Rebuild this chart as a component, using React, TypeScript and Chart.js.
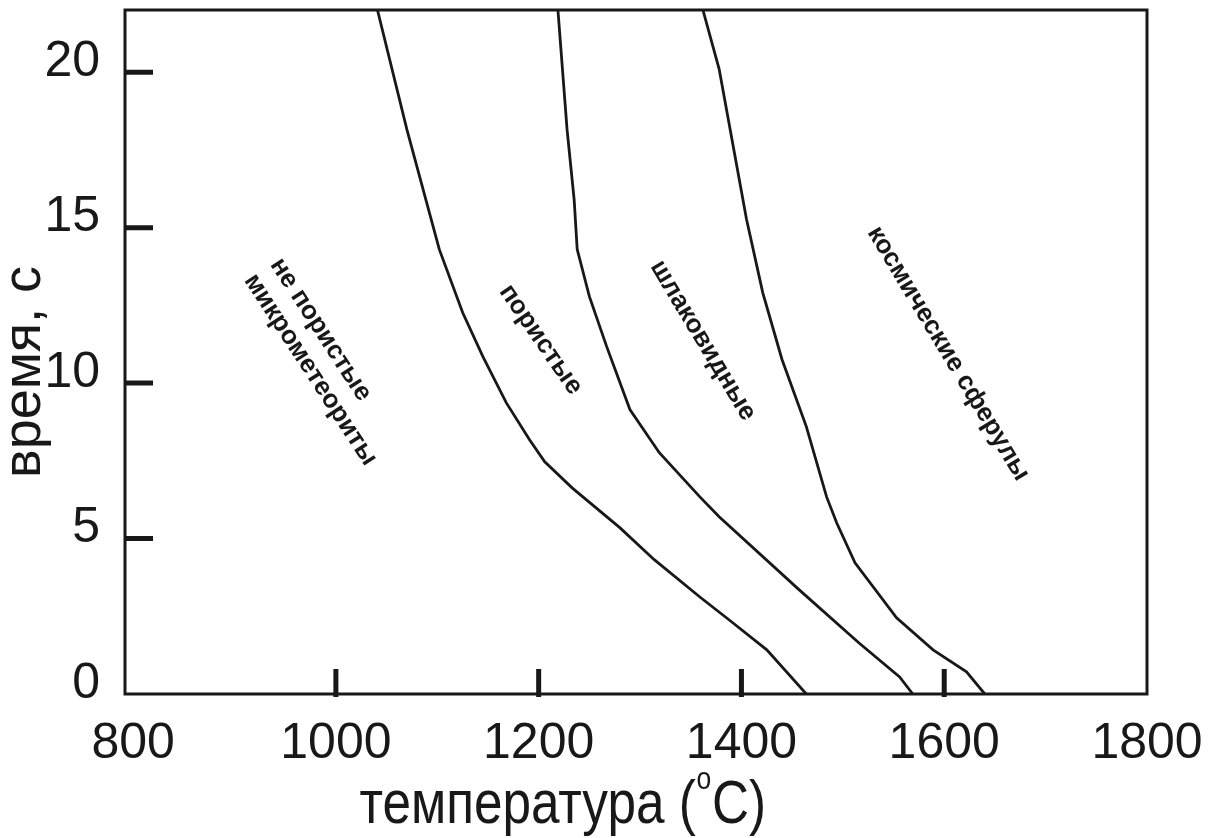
import React, { useEffect, useRef } from "react";
import { Chart, registerables } from "chart.js";

Chart.register(...registerables);

// ---- data ----
const xTickValues = [800, 1000, 1200, 1400, 1600, 1800];
const yTickValues = [0, 5, 10, 15, 20];
const xTickMarks = [1000, 1200, 1400, 1600];
const yTickMarks = [5, 10, 15, 20];

const xTitleMain = "температура (";
const xTitleSup = "o";
const xTitleEnd = "C)";
const yTitle = "время, с";

// boundary 1: non-porous micrometeorites | porous
const curve1T = [1041, 1070, 1102, 1125, 1145, 1168, 1191, 1206, 1233, 1280, 1314, 1359, 1388, 1425, 1464];
const curve1S = [22, 18.16, 14.3, 12.27, 10.85, 9.37, 8.18, 7.47, 6.63, 5.35, 4.32, 3.12, 2.38, 1.42, 0];

// boundary 2: porous | scoriaceous
const curve2T = [1219, 1228, 1235, 1238, 1250, 1267, 1290, 1319, 1359, 1378, 1457, 1516, 1556, 1569];
const curve2S = [22, 18.16, 15.9, 14.3, 12.79, 11.18, 9.15, 7.76, 6.34, 5.7, 3.35, 1.64, 0.55, 0];

// boundary 3: scoriaceous | cosmic spherules
const curve3T = [1362, 1378, 1405, 1421, 1440, 1464, 1484, 1494, 1512, 1553, 1589, 1622, 1640];
const curve3S = [22, 20.1, 15.27, 12.91, 10.76, 8.6, 6.34, 5.5, 4.22, 2.45, 1.42, 0.71, 0];

// region labels (anchored in data coordinates)
const regionLabels = [
  { text: "не пористые", t: 985, s: 11.72, angle: 57 },
  { text: "микрометеориты", t: 975, s: 10.43, angle: 57 },
  { text: "пористые", t: 1202, s: 11.4, angle: 55.5 },
  { text: "шлаковидные", t: 1362, s: 11.37, angle: 59 },
  { text: "космические сферулы", t: 1604, s: 10.95, angle: 59 },
];

const INK = "#181818";
const FONT = '"Liberation Sans", Arial, Helvetica, sans-serif';

const toPoints = (xs: number[], ys: number[]) => xs.map((x, i) => ({ x, y: ys[i] }));

const overlayPlugin = {
  id: "overlay",
  afterDraw(chart: any) {
    const { ctx, chartArea: a, scales } = chart;
    const xs = scales.x;
    const ys = scales.y;
    ctx.save();
    // frame
    ctx.strokeStyle = INK;
    ctx.lineWidth = 3;
    ctx.strokeRect(a.left, a.top, a.right - a.left, a.bottom - a.top);
    // inward tick marks
    ctx.lineWidth = 5;
    ctx.lineCap = "butt";
    ctx.beginPath();
    for (const v of xTickMarks) {
      const px = xs.getPixelForValue(v);
      ctx.moveTo(px, a.bottom + 3);
      ctx.lineTo(px, a.bottom - 25);
    }
    for (const v of yTickMarks) {
      const py = ys.getPixelForValue(v);
      ctx.moveTo(a.left, py);
      ctx.lineTo(a.left + 28, py);
    }
    ctx.stroke();

    ctx.fillStyle = INK;
    // region labels
    ctx.font = `bold 26px ${FONT}`;
    ctx.textAlign = "center";
    ctx.textBaseline = "middle";
    for (const lab of regionLabels) {
      const px = xs.getPixelForValue(lab.t);
      const py = ys.getPixelForValue(lab.s);
      ctx.save();
      ctx.translate(px, py);
      ctx.rotate((lab.angle * Math.PI) / 180);
      ctx.fillText(lab.text, 0, 0);
      ctx.restore();
    }

    // y title
    ctx.save();
    ctx.font = `54px ${FONT}`;
    ctx.textAlign = "center";
    ctx.textBaseline = "alphabetic";
    ctx.translate(40, (a.top + a.bottom) / 2 + 20);
    ctx.rotate(-Math.PI / 2);
    ctx.fillText(yTitle, 0, 0);
    ctx.restore();

    // x title with superscript degree
    ctx.save();
    ctx.textAlign = "left";
    ctx.textBaseline = "alphabetic";
    const big = `62px ${FONT}`;
    const small = `32px ${FONT}`;
    ctx.font = big;
    const w1 = ctx.measureText(xTitleMain).width;
    const w3 = ctx.measureText(xTitleEnd).width;
    ctx.font = small;
    const w2 = ctx.measureText(xTitleSup).width;
    const total = w1 + w2 + w3;
    const targetW = 405;
    const sx = targetW / total;
    ctx.translate(562 - targetW / 2, 823);
    ctx.scale(sx, 1);
    ctx.font = big;
    ctx.fillText(xTitleMain, 0, 0);
    ctx.font = small;
    ctx.fillText(xTitleSup, w1 + 1, -34);
    ctx.font = big;
    ctx.fillText(xTitleEnd, w1 + w2 + 2, 0);
    ctx.restore();

    ctx.restore();
  },
};

export default function App() {
  const canvasRef = useRef<HTMLCanvasElement | null>(null);

  useEffect(() => {
    const canvas = canvasRef.current;
    if (!canvas) return;
    const lineStyle = {
      showLine: true,
      borderColor: INK,
      backgroundColor: INK,
      borderWidth: 2.8,
      pointRadius: 0,
      tension: 0,
      fill: false,
    };
    const chart = new Chart(canvas, {
      type: "scatter",
      data: {
        datasets: [
          { label: "1", data: toPoints(curve1T, curve1S), ...lineStyle },
          { label: "2", data: toPoints(curve2T, curve2S), ...lineStyle },
          { label: "3", data: toPoints(curve3T, curve3S), ...lineStyle },
        ],
      },
      options: {
        animation: false,
        responsive: false,
        maintainAspectRatio: false,
        layout: { padding: { top: 10, right: 72, bottom: 0, left: 0 } },
        plugins: {
          legend: { display: false },
          tooltip: { enabled: false },
        },
        scales: {
          x: {
            type: "linear",
            min: 792,
            max: 1800,
            grid: { display: false, drawTicks: false },
            border: { display: false },
            ticks: {
              color: INK,
              font: { family: FONT, size: 50 },
              padding: 20,
              maxRotation: 0,
              autoSkip: false,
              callback: (v: any) => String(v),
            },
            afterBuildTicks: (scale: any) => {
              scale.ticks = xTickValues.map((v) => ({ value: v }));
            },
            afterFit: (scale: any) => {
              scale.height = 144;
              scale.paddingLeft = 0;
              scale.paddingRight = 0;
              scale.paddingTop = 0;
              scale.paddingBottom = 0;
            },
          },
          y: {
            type: "linear",
            min: 0,
            max: 22,
            grid: { display: false, drawTicks: false },
            border: { display: false },
            ticks: {
              color: INK,
              font: { family: FONT, size: 50 },
              padding: 25,
              labelOffset: -10,
              autoSkip: false,
              callback: (v: any) => String(v),
            },
            afterBuildTicks: (scale: any) => {
              scale.ticks = yTickValues.map((v) => ({ value: v }));
            },
            afterFit: (scale: any) => {
              scale.width = 125;
              scale.paddingLeft = 0;
              scale.paddingRight = 0;
              scale.paddingTop = 0;
              scale.paddingBottom = 0;
            },
          },
        },
      },
      plugins: [overlayPlugin],
    });
    return () => chart.destroy();
  }, []);

  return (
    <div style={{ position: "fixed", left: 0, top: 0, width: 1219, height: 838, background: "#fff" }}>
      <canvas ref={canvasRef} width={1219} height={838} style={{ display: "block" }} />
    </div>
  );
}
